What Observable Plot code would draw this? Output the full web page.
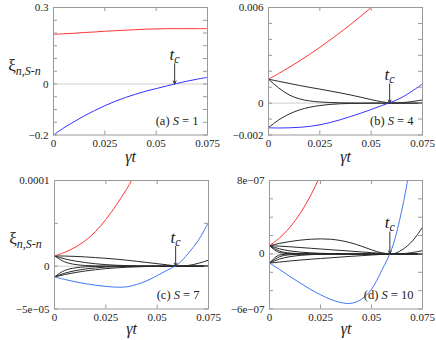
<!DOCTYPE html>
<html><head><meta charset="utf-8">
<script src="https://cdn.jsdelivr.net/npm/d3@7"></script>
<script src="https://cdn.jsdelivr.net/npm/@observablehq/plot@0.6"></script>
<style>
body{margin:0;background:#fff;}
#wrap{position:relative;width:436px;height:340px;background:#fff;overflow:hidden;}
#wrap svg{position:absolute;overflow:visible;background:transparent;}
#wrap svg text{font-family:"Liberation Serif",serif !important;}
</style></head><body><div id="wrap"></div>
<script>
// ---------- data ----------
const T = [0,0.005,0.01,0.015,0.02,0.025,0.03,0.035,0.04,0.045,0.05,0.055,0.06,0.065,0.07,0.075];
const tc = 0.059;
const xTicks = [0,0.025,0.05,0.075];
const xTickLabels = ["0","0.025","0.05","0.075"];
const panelTags = ["(a)","(b)","(c)","(d)"];
const panelS = ["1","4","7","10"];
const tcArrowTop = [0.08, 0.0012, 2.3e-5, 2.4e-7];

// (a) S = 1
const yDomainA = [-0.2, 0.3];
const yTicksA = [-0.2,-0.15,-0.1,-0.05,0,0.05,0.1,0.15,0.2,0.25,0.3];
const yLabelValsA = [-0.2,0,0.3];
const yLabelTextsA = ["−0.2","0","0.3"];
const redA  = [0.195,0.197,0.199,0.202,0.204,0.207,0.209,0.211,0.213,0.215,0.216,0.217,0.217,0.217,0.217,0.217];
const blueA = [-0.200,-0.172,-0.148,-0.125,-0.104,-0.085,-0.068,-0.053,-0.040,-0.028,-0.018,-0.008,0.002,0.011,0.019,0.026];

// (b) S = 4
const yDomainB = [-0.002, 0.006];
const yTicksB = [-0.002,-0.001,0,0.001,0.002,0.003,0.004,0.005,0.006];
const yLabelValsB = [-0.002,0,0.006];
const yLabelTextsB = ["−0.002","0","0.006"];
const tRedB = [0,0.005,0.01,0.015,0.02,0.025,0.03,0.035,0.04,0.045,0.05,0.055];
const redB  = [0.0015,0.00186,0.00224,0.00264,0.00306,0.0035,0.00396,0.00444,0.00494,0.00546,0.0060,0.00656];
const blueB = [-0.00155,-0.00156,-0.00155,-0.00152,-0.00146,-0.00136,-0.00122,-0.00104,-0.00084,-0.00063,-0.00040,-0.00016,0.00007,0.00036,0.00076,0.00120];
const blackB1 = [0.0015,0.00137,0.00124,0.00111,0.00099,0.00088,0.00076,0.00064,0.00051,0.00037,0.00022,0.00009,0.00001,0.00003,0.00010,0.00020];
const blackB2 = [0.0015,0.00095,0.00052,0.00027,0.00014,0.00007,0.00004,0.00002,0.00001,0,0,0,0,0,0,0];
const blackB3 = [-0.00154,-0.00105,-0.00069,-0.00043,-0.00026,-0.00015,-0.00008,-0.00004,-0.00002,-0.00001,0,0,0,0,0,0];

// (c) S = 7
const yDomainC = [-5e-5, 1e-4];
const yTicksC = [-5e-5,0,5e-5,1e-4];
const yLabelValsC = [-5e-5,0,1e-4];
const yLabelTextsC = ["−5e−05","0","0.0001"];
const tRedC = [0,0.005,0.01,0.015,0.02,0.025,0.03,0.035,0.04];
const redC  = [1.2e-5,1.62e-5,2.2e-5,2.98e-5,4.05e-5,5.45e-5,7.1e-5,8.95e-5,1.1e-4];
const blueC = [-1.25e-5,-1.55e-5,-1.82e-5,-2.04e-5,-2.22e-5,-2.36e-5,-2.45e-5,-2.42e-5,-2.14e-5,-1.7e-5,-1.1e-5,-0.45e-5,0.2e-5,1.45e-5,3.0e-5,5.1e-5];
const blackC1 = [1.2e-5,1.18e-5,1.14e-5,1.08e-5,1.0e-5,0.92e-5,0.82e-5,0.7e-5,0.57e-5,0.43e-5,0.29e-5,0.15e-5,0.02e-5,0.08e-5,0.33e-5,0.7e-5];
const blackC2 = [1.2e-5,0.85e-5,0.6e-5,0.42e-5,0.28e-5,0.18e-5,0.11e-5,0.06e-5,0.03e-5,0.01e-5,0,0,0,0,0,0];
const blackC3 = [1.2e-5,0.5e-5,0.2e-5,0.08e-5,0.03e-5,0.01e-5,0,0,0,0,0,0,0,0,0,0];
const blackC4 = [-1.25e-5,-0.5e-5,-0.2e-5,-0.08e-5,-0.03e-5,-0.01e-5,0,0,0,0,0,0,0,0,0,0];
const blackC5 = [-1.25e-5,-0.82e-5,-0.53e-5,-0.33e-5,-0.2e-5,-0.11e-5,-0.06e-5,-0.03e-5,-0.01e-5,0,0,0,0,0,0,0];
const blackC6 = [-1.25e-5,-0.98e-5,-0.75e-5,-0.56e-5,-0.41e-5,-0.29e-5,-0.2e-5,-0.13e-5,-0.08e-5,-0.04e-5,-0.02e-5,-0.01e-5,0,0,0,0];

// (d) S = 10
const yDomainD = [-6e-7, 8e-7];
const yTicksD = [-6e-7,-4e-7,-2e-7,0,2e-7,4e-7,6e-7,8e-7];
const yLabelValsD = [-6e-7,0,8e-7];
const yLabelTextsD = ["−6e−07","0","8e−07"];
const tRedD = [0,0.005,0.01,0.015,0.02,0.025];
const redD  = [9e-8,1.75e-7,2.9e-7,4.4e-7,6.3e-7,8.6e-7];
const tBlueD = [0,0.005,0.01,0.015,0.02,0.025,0.03,0.035,0.04,0.045,0.05,0.055,0.06,0.065,0.07];
const blueD = [-1.0e-7,-1.7e-7,-2.45e-7,-3.17e-7,-3.85e-7,-4.45e-7,-4.95e-7,-5.3e-7,-5.38e-7,-4.95e-7,-3.85e-7,-1.8e-7,0.6e-7,4.9e-7,11.0e-7];
const blackD1 = [9e-8,11.5e-8,13.5e-8,15e-8,16e-8,16.4e-8,16e-8,14.5e-8,12e-8,8.5e-8,4.5e-8,1.2e-8,0.1e-8,4.5e-8,14e-8,29e-8];
const blackD2 = [9e-8,8.5e-8,7.8e-8,7e-8,6.2e-8,5.4e-8,4.6e-8,3.8e-8,3e-8,2.2e-8,1.4e-8,0.7e-8,0.1e-8,0.3e-8,1.5e-8,3.6e-8];
const blackD3 = [9e-8,5.5e-8,3.3e-8,2e-8,1.2e-8,0.7e-8,0.4e-8,0.2e-8,0.1e-8,0,0,0,0,0,0,0];
const blackD4 = [9e-8,3e-8,1e-8,0.3e-8,0.1e-8,0,0,0,0,0,0,0,0,0,0,0];
const blackD5 = [9e-8,1.5e-8,0.2e-8,0,0,0,0,0,0,0,0,0,0,0,0,0];
const blackD6 = [-10e-8,-8.8e-8,-7.7e-8,-6.7e-8,-5.8e-8,-5e-8,-4.2e-8,-3.4e-8,-2.6e-8,-1.9e-8,-1.2e-8,-0.5e-8,0,0,0,0];
const blackD7 = [-10e-8,-5.5e-8,-3e-8,-1.6e-8,-0.8e-8,-0.4e-8,-0.2e-8,-0.1e-8,0,0,0,0,0,0,0,0];
const blackD8 = [-10e-8,-3e-8,-0.9e-8,-0.3e-8,-0.1e-8,0,0,0,0,0,0,0,0,0,0,0];
const blackD9 = [-10e-8,-1.2e-8,-0.1e-8,0,0,0,0,0,0,0,0,0,0,0,0,0];

// ---------- styling / layout ----------
const RED = "#ff3434", BLUE1 = "#3434ff", BLUE2 = "#3f78f2", BLACK = "#2a2a2a";
const FONT = "Liberation Serif";

const panels = [
  {i:0, left:0, top:0, mt:7, mr:11, mb:35.5, ml:53, yDomain:yDomainA, yTicks:yTicksA, yLV:yLabelValsA, yLT:yLabelTextsA, ylab:true,
   series:[{t:T,v:redA,c:RED},{t:T,v:blueA,c:BLUE1}]},
  {i:1, left:218, top:0, mt:7, mr:14, mb:35.5, ml:50, yDomain:yDomainB, yTicks:yTicksB, yLV:yLabelValsB, yLT:yLabelTextsB, ylab:false,
   series:[{t:T,v:blackB1,c:BLACK},{t:T,v:blackB2,c:BLACK},{t:T,v:blackB3,c:BLACK},{t:tRedB,v:redB,c:RED},{t:T,v:blueB,c:BLUE1}]},
  {i:2, left:0, top:170, mt:10, mr:10, mb:31.5, ml:54, yDomain:yDomainC, yTicks:yTicksC, yLV:yLabelValsC, yLT:yLabelTextsC, ylab:true,
   series:[blackC1,blackC2,blackC3,blackC4,blackC5,blackC6].map(v=>({t:T,v,c:BLACK})).concat([{t:tRedC,v:redC,c:RED},{t:T,v:blueC,c:BLUE2}])},
  {i:3, left:218, top:170, mt:10, mr:14, mb:31.5, ml:51, yDomain:yDomainD, yTicks:yTicksD, yLV:yLabelValsD, yLT:yLabelTextsD, ylab:false,
   series:[blackD1,blackD2,blackD3,blackD4,blackD5,blackD6,blackD7,blackD8,blackD9].map(v=>({t:T,v,c:BLACK})).concat([{t:tRedD,v:redD,c:RED},{t:tBlueD,v:blueD,c:BLUE2}])}
];

function rich(svg, match, parts){
  d3.select(svg).selectAll("text").filter(function(){return this.textContent===match;}).each(function(){
    const t = d3.select(this);
    t.text(null);
    for (const p of parts){
      const s = t.append("tspan").text(p.text);
      if (p.it) s.attr("font-style","italic");
      if (p.size) s.attr("font-size", p.size);
      if (p.dy) s.attr("dy", p.dy);
    }
  });
}

const wrap = document.getElementById("wrap");
for (const P of panels){
  const W = 218, H = 170;
  const fw = W - P.ml - P.mr, fh = H - P.mt - P.mb;
  const tag = panelTags[P.i] + " S = " + panelS[P.i];
  const marks = [
    Plot.ruleY([0], {stroke:"#cfcfcf", strokeWidth:1}),
    ...P.series.map(s => Plot.line(s.t.map((t,k)=>({t, v:s.v[k]})), {x:"t", y:"v", stroke:s.c, strokeWidth:1, curve: s.c === BLACK ? "monotone-x" : "catmull-rom", clip:true})),
    Plot.frame({stroke:"#9a9a9a"}),
    Plot.tickY(P.yTicks, {y:d=>d, stroke:"#9a9a9a", insetRight: fw-4}),
    Plot.tickY(P.yTicks, {y:d=>d, stroke:"#9a9a9a", insetLeft: fw-4}),
    Plot.tickX(xTicks, {x:d=>d, stroke:"#9a9a9a", insetTop: fh-4}),
    Plot.tickX(xTicks, {x:d=>d, stroke:"#9a9a9a", insetBottom: fh-4}),
    Plot.axisY(P.yLV, {tickSize:0, tickPadding:5, label:null, fontSize:11, tickFormat:d=>P.yLT[P.yLV.indexOf(d)]}),
    Plot.axisX(xTicks, {tickSize:0, tickPadding:4, label:null, fontSize:11, tickFormat:d=>xTickLabels[xTicks.indexOf(d)]}),
    Plot.arrow([0], {x1:()=>tc, x2:()=>tc, y1:()=>tcArrowTop[P.i], y2:()=>0, stroke:"#333", strokeWidth:1, headLength:5, headAngle:50}),
    Plot.text([0], {x:()=>tc, y:()=>tcArrowTop[P.i], text:()=>"tc", dy:-9, fontSize:17, textAnchor:"middle"}),
    Plot.text([0], {frameAnchor:"bottom-right", text:()=>tag, dx:-9, dy:-10, textAnchor:"end", fontSize:12.5}),
    Plot.text([0], {frameAnchor:"bottom", text:()=>"γt", dy: P.top ? 25 : 27, fontSize:16, fontStyle:"italic"})
  ];
  if (P.ylab) marks.push(Plot.text([0], {frameAnchor:"left", text:()=>"ξn,S-n", dx:-29, dy:-6, fontSize:17, textAnchor:"middle"}));
  const svg = Plot.plot({
    width:W, height:H, marginTop:P.mt, marginRight:P.mr, marginBottom:P.mb, marginLeft:P.ml,
    x:{domain:[0,0.075]}, y:{domain:P.yDomain},
    marks
  });
  svg.setAttribute("font-family", FONT);
  svg.setAttribute("font-size", "11");
  svg.style.color = "#222";
  d3.select(svg).selectAll("g, text").attr("font-family", FONT);
  rich(svg, "tc", [{text:"t", it:true},{text:"c", it:true, size:12, dy:3}]);
  rich(svg, tag, [{text:panelTags[P.i]+" "},{text:"S", it:true},{text:" = "+panelS[P.i]}]);
  rich(svg, "ξn,S-n", [{text:"ξ"},{text:"n", it:true, size:12, dy:4},{text:",", size:12},{text:"S", it:true, size:12},{text:"-", size:12},{text:"n", it:true, size:12}]);
  svg.style.left = P.left + "px";
  svg.style.top = P.top + "px";
  wrap.appendChild(svg);
}
</script>
</body></html>
